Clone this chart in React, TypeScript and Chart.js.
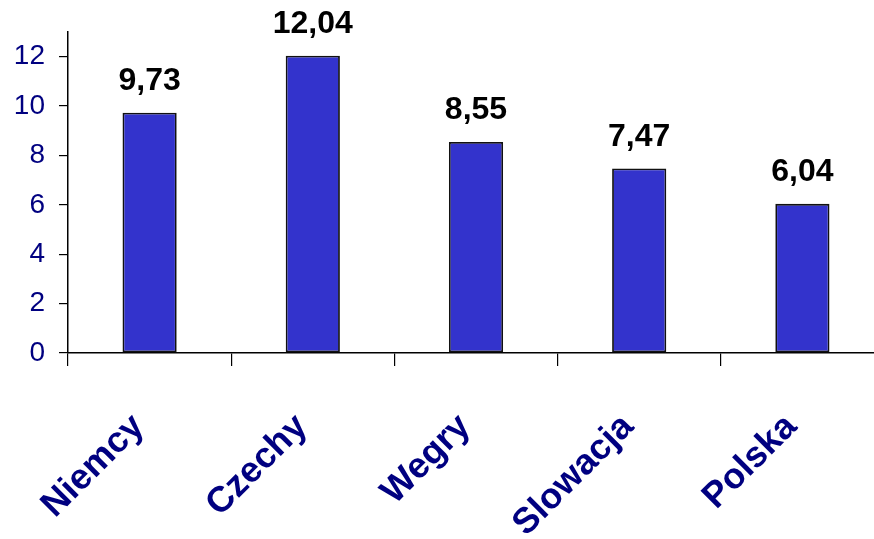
import React, { useEffect, useRef } from "react";
import { Chart, registerables } from "chart.js";

Chart.register(...registerables);

const countries = ["Niemcy", "Czechy", "Wegry", "Slowacja", "Polska"];
const values = [9.73, 12.04, 8.55, 7.47, 6.04];
const yTicks = [0, 2, 4, 6, 8, 10, 12];

const FONT = "'Liberation Sans', Arial, sans-serif";
const fmt = (v: number) => v.toFixed(2).replace(".", ",");

// Value labels above the bars and slanted category names under the axis.
const labelsPlugin = {
  id: "labelsPlugin",
  afterDraw(chart: any) {
    const { ctx } = chart;
    const meta = chart.getDatasetMeta(0);
    ctx.save();
    ctx.font = `bold 32px ${FONT}`;
    ctx.fillStyle = "#000000";
    ctx.textAlign = "center";
    ctx.textBaseline = "alphabetic";
    meta.data.forEach((bar: any, i: number) => {
      ctx.fillText(fmt(values[i]), bar.x, bar.y - 23);
    });
    ctx.restore();

    const xScale = chart.scales.x;
    ctx.save();
    ctx.font = `bold 36px ${FONT}`;
    ctx.fillStyle = "#000080";
    ctx.textAlign = "right";
    ctx.textBaseline = "alphabetic";
    countries.forEach((name, i) => {
      const cx = xScale.getPixelForValue(i);
      ctx.save();
      ctx.translate(cx - 4, xScale.top + 75);
      ctx.rotate(-Math.PI / 4);
      ctx.fillText(name, 0, 0);
      ctx.restore();
    });
    ctx.restore();
  },
};

export default function App() {
  const ref = useRef<HTMLCanvasElement | null>(null);

  useEffect(() => {
    document.body.style.margin = "0";
    document.body.style.overflow = "hidden";
    const chart = new Chart(ref.current!, {
      type: "bar",
      data: {
        labels: countries,
        datasets: [
          {
            data: values,
            backgroundColor: "#3333cc",
            borderColor: "#111111",
            borderWidth: 1.8,
            borderSkipped: false,
            barPercentage: 0.664,
            categoryPercentage: 0.5,
          },
        ],
      },
      options: {
        animation: false,
        responsive: false,
        maintainAspectRatio: false,
        layout: { padding: { top: 32, left: 0, right: 0, bottom: 0 } },
        plugins: { legend: { display: false }, tooltip: { enabled: false } },
        scales: {
          x: {
            offset: true,
            border: { display: true, color: "#000000", width: 1.5 },
            grid: {
              display: true,
              offset: true,
              drawOnChartArea: false,
              drawTicks: true,
              tickLength: 13,
              color: "#000000",
              lineWidth: 1.2,
            },
            ticks: { display: false },
            afterFit: (axis: any) => {
              axis.height = 186;
            },
          },
          y: {
            min: 0,
            max: 13,
            border: { display: true, color: "#000000", width: 1.5 },
            grid: {
              display: true,
              drawOnChartArea: false,
              drawTicks: true,
              tickLength: 9,
              color: "#000000",
              lineWidth: 1.2,
            },
            afterBuildTicks: (axis: any) => {
              axis.ticks = yTicks.map((v) => ({ value: v }));
            },
            afterFit: (axis: any) => {
              axis.width = 68;
            },
            ticks: {
              padding: 14,
              color: "#000080",
              font: { family: FONT, size: 28 },
              callback: (v: any) => String(v),
            },
          },
        },
      },
      plugins: [labelsPlugin],
    });
    return () => chart.destroy();
  }, []);

  return <canvas ref={ref} width={884} height={539} style={{ display: "block" }} />;
}
